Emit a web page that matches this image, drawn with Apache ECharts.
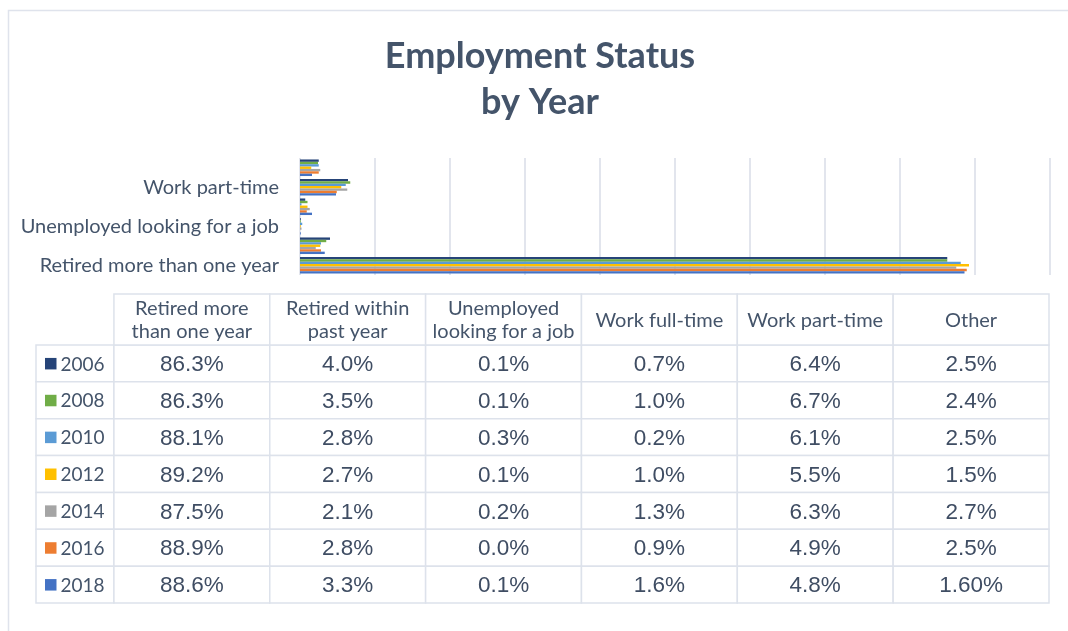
<!DOCTYPE html>
<html><head><meta charset="utf-8">
<script src="https://cdn.jsdelivr.net/npm/echarts@6/dist/echarts.min.js"></script>
<style>html,body{margin:0;padding:0;background:#fff}#c{width:1068px;height:631px}</style>
</head><body><div id="c"></div>
<script>
// ---- data ----
const categories = ['Retired more than one year', 'Retired within past year', 'Unemployed looking for a job', 'Work full-time', 'Work part-time', 'Other'];
const headerLabels = ['Retired more\nthan one year', 'Retired within\npast year', 'Unemployed\nlooking for a job', 'Work full-time', 'Work part-time', 'Other'];
const years = ['2006', '2008', '2010', '2012', '2014', '2016', '2018'];
const yearColors = ['#264478', '#70AD47', '#5B9BD5', '#FFC000', '#A5A5A5', '#ED7D31', '#4472C4'];
const v2006 = ['86.3%', '4.0%', '0.1%', '0.7%', '6.4%', '2.5%'];
const v2008 = ['86.3%', '3.5%', '0.1%', '1.0%', '6.7%', '2.4%'];
const v2010 = ['88.1%', '2.8%', '0.3%', '0.2%', '6.1%', '2.5%'];
const v2012 = ['89.2%', '2.7%', '0.1%', '1.0%', '5.5%', '1.5%'];
const v2014 = ['87.5%', '2.1%', '0.2%', '1.3%', '6.3%', '2.7%'];
const v2016 = ['88.9%', '2.8%', '0.0%', '0.9%', '4.9%', '2.5%'];
const v2018 = ['88.6%', '3.3%', '0.1%', '1.6%', '4.8%', '1.60%'];
const tableRows = [v2006, v2008, v2010, v2012, v2014, v2016, v2018];
const xMin = 0, xMax = 100, xStep = 10;

// ---- styles ----
const TXT = '#44546A';
const BORDER = '#dde2eb';
const LAB_FONT = 'Lato, "Open Sans", sans-serif';
const VAL_FONT = '"Liberation Sans", Arial, sans-serif';

const chart = echarts.init(document.getElementById('c'), null, {renderer: 'canvas'});

const barSeries = years.map((y, i) => ({
  name: y, type: 'bar', xAxisIndex: 0, yAxisIndex: 0,
  data: tableRows[i].map(s => parseFloat(s)),
  itemStyle: {color: yearColors[i]},
  barGap: '0%', barCategoryGap: '15%',
  silent: true
}));

// table body items: [column (0 = legend column), row]
const bodyData = [];
years.forEach((y, r) => { for (let c = 0; c <= categories.length; c++) bodyData.push([c, r]); });
const headData = categories.map((_, c) => [c + 1, 0]);

function colSpan(c) { return c === 0 ? [0, 1] : [2 * c - 1, 2 * c + 1]; }

function bodyItem(params, api) {
  const c = api.value(0), r = api.value(1);
  const [s, e] = colSpan(c);
  const p0 = api.coord([s, r]), p1 = api.coord([e, r]);
  const h = api.size([0, 1])[1];
  const x = p0[0], w = p1[0] - p0[0], y = p0[1] - h / 2;
  const children = [{
    type: 'rect', shape: {x, y, width: w, height: h},
    style: {fill: '#fff', stroke: BORDER, lineWidth: 1.5}
  }];
  if (c === 0) {
    children.push({type: 'rect', shape: {x: x + 9, y: p0[1] - 5.5, width: 11.5, height: 11.5}, style: {fill: yearColors[r]}});
    children.push({type: 'text', style: {text: years[r], x: x + 24.5, y: p0[1] + 1, align: 'left', verticalAlign: 'middle', fill: TXT, font: '19px ' + LAB_FONT}});
  } else {
    children.push({type: 'text', style: {text: tableRows[r][c - 1], x: x + w / 2, y: p0[1] + 1.5, align: 'center', verticalAlign: 'middle', fill: '#3f4d63', font: '22.5px ' + VAL_FONT}});
  }
  return {type: 'group', children};
}

function headItem(params, api) {
  const c = api.value(0), r = api.value(1);
  const [s, e] = colSpan(c);
  const p0 = api.coord([s, r]), p1 = api.coord([e, r]);
  const h = api.size([0, 1])[1];
  const x = p0[0], w = p1[0] - p0[0], y = p0[1] - h / 2;
  return {type: 'group', children: [
    {type: 'rect', shape: {x, y, width: w, height: h}, style: {fill: '#fff', stroke: BORDER, lineWidth: 1.5}},
    {type: 'text', style: {text: headerLabels[c - 1], x: x + w / 2, y: p0[1] + 1, align: 'center', verticalAlign: 'middle', fill: TXT, font: '20px ' + LAB_FONT, lineHeight: 23}}
  ]};
}

const option = {
  backgroundColor: '#fff',
  animation: false,
  title: {
    text: 'Employment Status\nby Year', left: 535, textAlign: 'center', top: 28,
    textStyle: {fontFamily: LAB_FONT, fontWeight: 'bold', fontSize: 36, lineHeight: 46, color: TXT}
  },
  graphic: [{
    type: 'rect', left: 6, top: 8, silent: true,
    shape: {x: 0.5, y: 0.5, width: 1200, height: 800},
    style: {fill: 'none', stroke: '#dfe3ec', lineWidth: 1.5}
  }],
  grid: [
    {left: 300, top: 158, width: 750, height: 117},
    {left: 36, top: 345, width: 1013, height: 258},
    {left: 36, top: 294, width: 1013, height: 51}
  ],
  xAxis: [
    {gridIndex: 0, type: 'value', min: xMin, max: xMax, interval: xStep,
     axisLabel: {show: false}, axisTick: {show: false}, axisLine: {show: false},
     splitLine: {show: true, lineStyle: {color: '#d9dde7', width: 1.5}}},
    {gridIndex: 1, type: 'value', min: 0, max: 13, show: false},
    {gridIndex: 2, type: 'value', min: 0, max: 13, show: false}
  ],
  yAxis: [
    {gridIndex: 0, type: 'category', data: categories,
     axisTick: {show: false}, axisLine: {show: false},
     axisLabel: {interval: 1, margin: 21, color: TXT, fontFamily: LAB_FONT, fontSize: 20}},
    {gridIndex: 1, type: 'category', data: years, inverse: true, show: false},
    {gridIndex: 2, type: 'category', data: ['header'], show: false}
  ],
  series: [
    ...barSeries,
    {type: 'custom', xAxisIndex: 1, yAxisIndex: 1, data: bodyData, renderItem: bodyItem, silent: true, clip: false},
    {type: 'custom', xAxisIndex: 2, yAxisIndex: 2, data: headData, renderItem: headItem, silent: true, clip: false}
  ]
};
chart.setOption(option);
</script>
</body></html>
